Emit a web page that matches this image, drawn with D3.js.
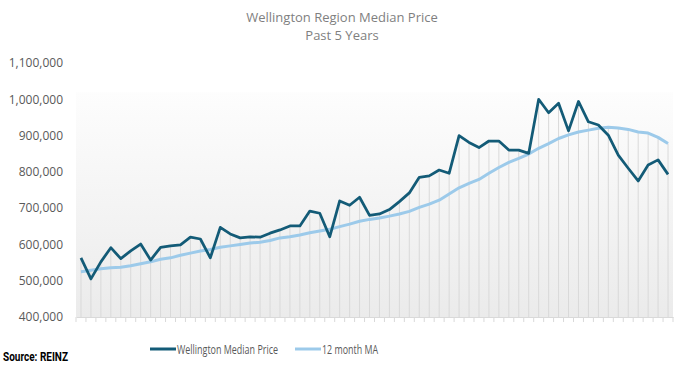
<!DOCTYPE html>
<html>
<head>
<meta charset="utf-8">
<script src="https://cdn.jsdelivr.net/npm/d3@7"></script>
<style>
  body { margin: 0; background: #fff; }
  svg { display: block; font-family: "Open Sans", sans-serif; }
</style>
</head>
<body>
<div id="chart"></div>
<script>
// monthly values, past 5 years (60 months)
var medianPrice = [
  563000, 505000, 552000, 591000, 561000, 582000, 601000, 557000, 592000, 596000,
  599000, 620000, 615000, 563000, 647000, 629000, 618000, 621000, 620000, 631000,
  640000, 651000, 651000, 692000, 686000, 621000, 720000, 708000, 730000, 680000,
  684000, 696000, 718000, 742000, 785000, 789000, 805000, 796000, 900000, 881000,
  867000, 885000, 885000, 860000, 860000, 851000, 1000000, 963000, 989000, 913000,
  994000, 938000, 929000, 901000, 846000, 810000, 775000, 819000, 833000, 793000
];
var movingAvg = [
  525000, 529000, 533000, 536000, 537000, 541000, 547000, 552000, 559000, 563000,
  570000, 576000, 582000, 586000, 592000, 596000, 600000, 604000, 606000, 611000,
  618000, 621000, 626000, 632000, 637000, 642000, 649000, 656000, 664000, 669000,
  673000, 678000, 684000, 691000, 702000, 711000, 722000, 739000, 756000, 768000,
  779000, 796000, 812000, 826000, 837000, 849000, 865000, 878000, 892000, 902000,
  910000, 915000, 920000, 923000, 921000, 917000, 910000, 907000, 895000, 878000
];
var yTicks = [400000, 500000, 600000, 700000, 800000, 900000, 1000000, 1100000];
var seriesNames = ["Wellington Median Price", "12 month MA"];
var seriesColors = ["#135b77", "#9ccaea"];

var months = d3.range(medianPrice.length);

var W = 687, H = 367;
var margin = { top: 63, right: 14, bottom: 50, left: 76 },
  width = W - margin.left - margin.right,
  height = H - margin.top - margin.bottom;

var svg = d3.select("#chart").append("svg")
  .attr("width", W)
  .attr("height", H);

// title
svg.append("text")
  .attr("x", 342).attr("y", 22)
  .attr("text-anchor", "middle")
  .attr("fill", "#7f7f7f")
  .style("font-size", "13px")
  .text("Wellington Region Median Price");
svg.append("text")
  .attr("x", 342).attr("y", 40)
  .attr("text-anchor", "middle")
  .attr("fill", "#7f7f7f")
  .style("font-size", "13px")
  .text("Past 5 Years");

var g = svg.append("g")
  .attr("transform", "translate(" + margin.left + "," + margin.top + ")");

var x = d3.scaleBand().domain(months).range([0, width]);
var y = d3.scaleLinear().domain([400000, 1100000]).range([height, 0]);

// plot area gradient
var grad = svg.append("defs").append("linearGradient")
  .attr("id", "bg").attr("x1", 0).attr("y1", 0).attr("x2", 0).attr("y2", 1);
grad.append("stop").attr("offset", "0%").attr("stop-color", "#fdfdfd");
grad.append("stop").attr("offset", "100%").attr("stop-color", "#ebebeb");

g.append("rect")
  .attr("x", 0)
  .attr("y", y(1000000) - 7)
  .attr("width", width)
  .attr("height", height - y(1000000) + 7)
  .attr("fill", "url(#bg)");

// drop lines
g.append("g")
  .selectAll("line")
  .data(months)
  .enter().append("line")
  .attr("x1", function (d) { return x(d) + x.bandwidth() / 2; })
  .attr("x2", function (d) { return x(d) + x.bandwidth() / 2; })
  .attr("y1", height)
  .attr("y2", function (d) { return y(Math.max(medianPrice[d], movingAvg[d])); })
  .attr("stroke", "#d9d9d9")
  .attr("stroke-width", 1);

// axes
var yAxis = d3.axisLeft(y).tickValues(yTicks).tickSize(0).tickPadding(13)
  .tickFormat(d3.format(","));
g.append("g").call(yAxis)
  .call(function (a) {
    a.select(".domain").remove();
    a.selectAll("text").attr("fill", "#595959").style("font-size", "12px")
      .style("font-family", "Open Sans, sans-serif");
  });

var xAxis = d3.axisBottom(x).tickFormat("").tickSize(0);
g.append("g")
  .attr("transform", "translate(0," + height + ")")
  .call(xAxis)
  .call(function (a) {
    a.select(".domain").attr("stroke", "#d9d9d9");
    a.selectAll(".tick").remove();
  });

// tick marks between categories
g.append("g")
  .selectAll("line")
  .data(d3.range(months.length + 1))
  .enter().append("line")
  .attr("x1", function (i) { return i * x.step(); })
  .attr("x2", function (i) { return i * x.step(); })
  .attr("y1", height)
  .attr("y2", height + 5)
  .attr("stroke", "#d9d9d9");

// lines
var line = function (arr) {
  return d3.line()
    .x(function (d) { return x(d) + x.bandwidth() / 2; })
    .y(function (d) { return y(arr[d]); })(months);
};

g.append("path")
  .attr("d", line(movingAvg))
  .attr("fill", "none")
  .attr("stroke", seriesColors[1])
  .attr("stroke-width", 3)
  .attr("stroke-linejoin", "round");

g.append("path")
  .attr("d", line(medianPrice))
  .attr("fill", "none")
  .attr("stroke", seriesColors[0])
  .attr("stroke-width", 2.75)
  .attr("stroke-linejoin", "round");

// legend
var legend = svg.append("g").attr("transform", "translate(150,349)");
var legX = [0, 145];
var legW = [101, 56];
seriesNames.forEach(function (name, i) {
  var lg = legend.append("g").attr("transform", "translate(" + legX[i] + ",0)");
  lg.append("line")
    .attr("x1", 0).attr("x2", 26)
    .attr("y1", 0).attr("y2", 0)
    .attr("stroke", seriesColors[i])
    .attr("stroke-width", 3);
  lg.append("text")
    .attr("x", 27).attr("y", 4.5)
    .attr("fill", "#595959")
    .attr("textLength", legW[i])
    .attr("lengthAdjust", "spacingAndGlyphs")
    .style("font-size", "12.5px")
    .text(name);
});

// source
svg.append("text")
  .attr("x", 3).attr("y", 361)
  .attr("fill", "#000")
  .attr("textLength", 65)
  .attr("lengthAdjust", "spacingAndGlyphs")
  .style("font-size", "13px")
  .style("font-weight", "bold")
  .style("font-family", "Roboto, sans-serif")
  .text("Source: REINZ");
</script>
</body>
</html>
